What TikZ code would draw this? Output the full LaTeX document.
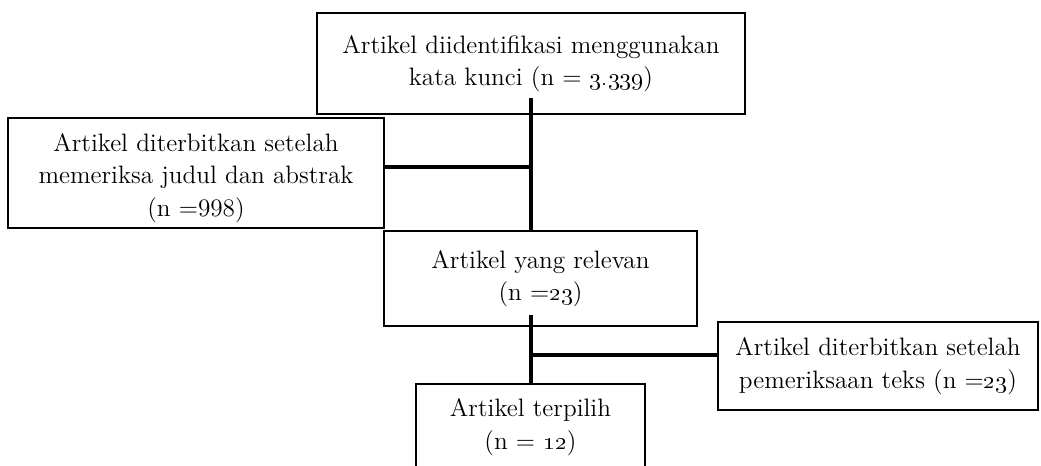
\documentclass[tikz,border=0pt]{standalone}
\usetikzlibrary{calc}
\begin{document}
\begin{tikzpicture}[x=0.5pt,y=-0.5pt,
  box/.style={draw=black,line width=1.25pt,align=center,inner sep=0pt,
    font=\fontsize{12.6}{16.3}\selectfont},
  txt/.style={align=center,inner sep=0pt,font=\fontsize{12.6}{16.3}\selectfont},
  conn/.style={line width=2pt,line cap=butt}]
\useasboundingbox[fill=white] (0,0) rectangle (1041,466);
\node[box,minimum width=428*0.5pt,minimum height=101*0.5pt] (top) at (531,63.5)
  {Artikel diidentifikasi menggunakan\\kata kunci (n = \oldstylenums{3.339})};
\node[box,minimum width=376*0.5pt,minimum height=110*0.5pt] (left) at (196,173) {};
\node[txt] (lefttxt) at ($(left.center)+(0,5)$)
  {Artikel diterbitkan setelah\\memeriksa judul dan abstrak\\(n =998)};
\node[box,minimum width=313*0.5pt,minimum height=95*0.5pt] (mid) at (540.5,278.5)
  {Artikel yang relevan\\(n =\oldstylenums{23})};
\node[box,minimum width=320*0.5pt,minimum height=88*0.5pt] (right) at (878,366)
  {Artikel diterbitkan setelah\\pemeriksaan teks (n =\oldstylenums{23})};
\node[box,minimum width=229*0.5pt,minimum height=86*0.5pt] (bot) at (530.5,427)
  {Artikel terpilih\\(n = \oldstylenums{12})};
\coordinate (s1) at (531,98);
\coordinate (j1) at (531,167);
\coordinate (s2) at (531,315);
\coordinate (j2) at (531,355);
\draw[conn] (s1) -- (s1 |- mid.north);
\draw[conn] (left.east |- j1) -- (j1);
\draw[conn] (s2) -- (s2 |- bot.north);
\draw[conn] (j2) -- (j2 -| right.west);
\end{tikzpicture}
\end{document}
